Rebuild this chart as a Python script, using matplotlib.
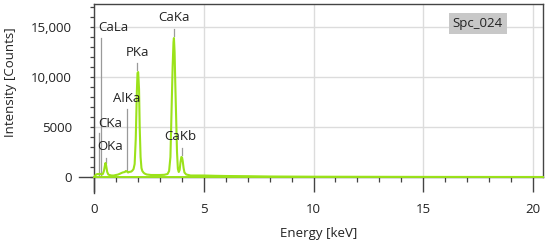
# EDS spectrum Spc_024 - intensity vs energy with labelled lines
import matplotlib
matplotlib.use('Agg')
import matplotlib.pyplot as plt
from matplotlib.ticker import MultipleLocator, FuncFormatter

# spectrum (energy in keV, counts)
energy = [0.00, 0.05, 0.10, 0.15, 0.20, 0.25, 0.30, 0.35, 0.40, 0.45, 0.50, 0.52,
          0.55, 0.60, 0.65, 0.70, 0.80, 0.90, 1.00, 1.10, 1.20, 1.30, 1.40, 1.45,
          1.50, 1.55, 1.60, 1.70, 1.75, 1.80, 1.85, 1.90, 1.95, 1.98, 2.01, 2.05,
          2.08, 2.12, 2.16, 2.20, 2.25, 2.30, 2.40, 2.60, 2.80, 3.00, 3.20, 3.35,
          3.42, 3.48, 3.53, 3.58, 3.62, 3.64, 3.67, 3.70, 3.74, 3.78, 3.82, 3.86,
          3.90, 3.94, 3.98, 4.01, 4.04, 4.08, 4.12, 4.20, 4.40, 4.60, 5.00, 5.50,
          6.00, 7.00, 8.00, 10.0, 15.0, 20.45]
counts = [0, 150, 250, 300, 280, 320, 300, 250, 300, 600, 1200, 1400,
          1150, 500, 250, 200, 150, 150, 200, 250, 350, 450, 500, 600,
          550, 450, 500, 550, 650, 800, 1300, 3800, 8500, 10400, 10500, 8800,
          5000, 2000, 900, 600, 450, 350, 250, 200, 200, 200, 220, 300,
          600, 2000, 6500, 11000, 13500, 13900, 12500, 9500, 6000, 2500, 800, 500,
          700, 1500, 2000, 1950, 1600, 900, 450, 250, 150, 150, 150, 120,
          100, 80, 50, 30, 10, 0]

# element lines: label, label position (keV, counts), marker x and marker span
line_names = ['CaLa', 'CKa', 'OKa', 'AlKa', 'PKa', 'CaKa', 'CaKb']
label_x = [0.88, 0.75, 0.75, 1.50, 2.00, 3.64, 3.95]
label_y = [15000, 5400, 3100, 7900, 12500, 16000, 4100]
marker_x = [0.32, 0.23, 0.55, 1.50, 1.95, 3.64, 4.00]
marker_top = [13900, 4400, 1900, 6800, 11400, 14800, 2900]
marker_bottom = [0, 200, 1400, 700, 10700, 14100, 2200]

spectrum_name = 'Spc_024'

plt.rcParams['font.family'] = ['Open Sans', 'DejaVu Sans']
fs = 9.5

fig = plt.figure(figsize=(5.5, 2.4), dpi=100)
ax = fig.add_axes([0.171, 0.2625, 0.816, 0.7205])

green = '#9be21a'
ax.plot(energy, counts, color=green, lw=1.5, zorder=3)
ax.plot([0, 20.45], [0, 0], color=green, lw=1.4, zorder=3, clip_on=False)

# marker lines and labels
for i in range(len(line_names)):
    ax.plot([marker_x[i], marker_x[i]], [marker_bottom[i], marker_top[i]],
            color='#9a9a9a', lw=0.9, zorder=2)
    ax.text(label_x[i], label_y[i], line_names[i], ha='center', va='center',
            fontsize=fs, color='#222222', zorder=4)

ax.text(0.855, 0.89, spectrum_name, transform=ax.transAxes, ha='center', va='center',
        fontsize=fs, color='#222222',
        bbox=dict(boxstyle='square,pad=0.3', fc='#c8c8c8', ec='none'))

ax.set_xlim(0, 20.45)
ax.set_ylim(0, 17300)

ax.xaxis.set_major_locator(MultipleLocator(5))
ax.xaxis.set_minor_locator(MultipleLocator(1))
ax.yaxis.set_major_locator(MultipleLocator(5000))
ax.yaxis.set_minor_locator(MultipleLocator(1000))
ax.yaxis.set_major_formatter(FuncFormatter(
    lambda v, p: '0' if v == 0 else ('5000' if v == 5000 else f'{int(v):,}')))

ax.grid(True, which='major', color='#dcdcdc', lw=1)
ax.set_axisbelow(True)

for s in ax.spines.values():
    s.set_color('#444444')
    s.set_linewidth(1.0)
ax.spines['left'].set_bounds(-1600, 17300)
ax.spines['bottom'].set_bounds(-0.7, 20.45)

ax.tick_params(axis='x', which='major', length=11, width=1.0, color='#444444', pad=8,
               labelsize=fs, labelcolor='#222222')
ax.tick_params(axis='x', which='minor', length=3.6, width=0.9, color='#444444')
ax.tick_params(axis='y', which='both', length=3, width=0.9, color='#444444', pad=13,
               labelsize=fs, labelcolor='#222222')

ax.set_xlabel('Energy [keV]', fontsize=fs, color='#222222')
ax.xaxis.set_label_coords(0.5, -0.29)
ax.set_ylabel('Intensity [Counts]', fontsize=fs, color='#222222')
ax.yaxis.set_label_coords(-0.171, 0.55)

fig.savefig('out.png', dpi=100)
